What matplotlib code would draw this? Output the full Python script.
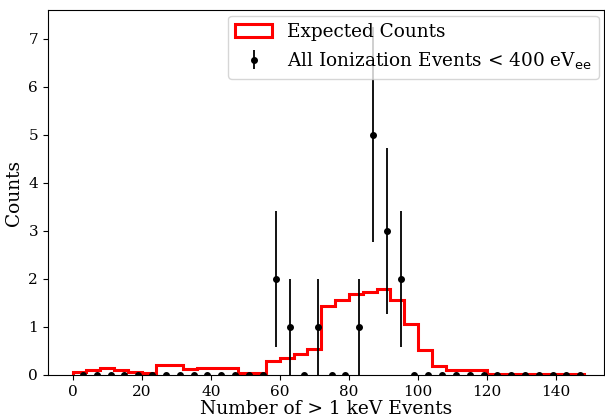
import matplotlib.pyplot as plt
import numpy as np

plt.rcParams['font.family'] = 'DejaVu Serif'
plt.rcParams['mathtext.fontset'] = 'dejavusans'

# expected counts per 4-event bin, edges 0..148
bin_edges = np.arange(0, 152, 4)
expected = [0.06, 0.10, 0.15, 0.10, 0.06, 0.035, 0.20, 0.20, 0.12, 0.15,
            0.15, 0.15, 0.035, 0.035, 0.28, 0.35, 0.44, 0.54, 1.44, 1.55,
            1.69, 1.72, 1.79, 1.55, 1.07, 0.52, 0.18, 0.10, 0.10, 0.10,
            0.02, 0.02, 0.02, 0.02, 0.02, 0.02, 0.02]

# observed events
obs_x = np.arange(3, 151, 4)
obs_counts = np.zeros(len(obs_x))
for x, c in [(59, 2), (63, 1), (71, 1), (83, 1), (87, 5), (91, 3), (95, 2)]:
    obs_counts[obs_x == x] = c
obs_err = np.sqrt(obs_counts)

fig = plt.figure(figsize=(6.05, 4.17), dpi=100)
ax = fig.add_axes([0.079, 0.101, 0.92, 0.875])

ax.hist(bin_edges[:-1], bins=bin_edges, weights=expected, histtype='step',
        color='red', linewidth=2.2, label='Expected Counts')
ax.errorbar(obs_x, obs_counts, yerr=obs_err, fmt='o', color='black',
            markersize=4, elinewidth=1.3,
            label='All Ionization Events < 400 eV$_{\\mathrm{ee}}$')

ax.set_xlim(-7.2, 154)
ax.set_ylim(0, 7.6)
ax.set_xticks(np.arange(0, 160, 20))
ax.tick_params(labelsize=11)
ax.set_xlabel('Number of > 1 keV Events', fontsize=13.4, labelpad=1)
ax.set_ylabel('Counts', fontsize=13.4)
ax.legend(loc='upper right', fontsize=13.3, borderaxespad=0.3)

plt.savefig('out.png', dpi=100)
